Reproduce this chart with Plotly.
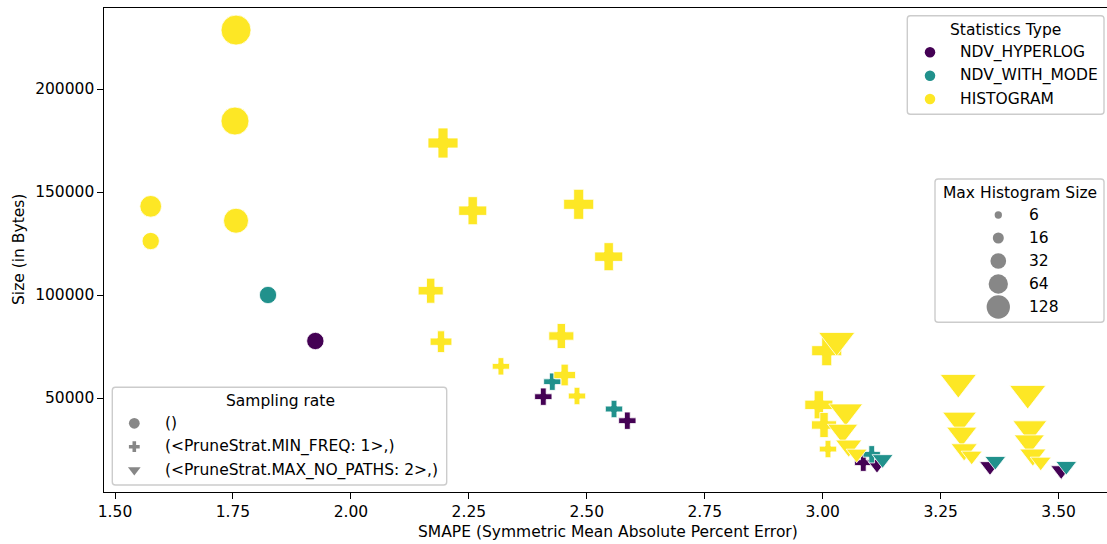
import plotly.graph_objects as go

# ---------------- data ----------------
stat_types = ["NDV_HYPERLOG", "NDV_WITH_MODE", "HISTOGRAM"]
sampling_rates = ["()", "(<PruneStrat.MIN_FREQ: 1>,)", "(<PruneStrat.MAX_NO_PATHS: 2>,)"]
hist_sizes = [6, 16, 32, 64, 128]

# NDV_HYPERLOG
hyper_smape = [1.9246, 2.4078, 2.5859, 3.0860, 3.1151, 3.3546, 3.5055]
hyper_size = [77670, 50640, 38980, 18590, 17960, 16890, 14900]
hyper_sampling = [0, 1, 1, 1, 2, 2, 2]
hyper_hist = [6, 6, 6, 6, 6, 6, 6]

# NDV_WITH_MODE
mode_smape = [1.8243, 2.4269, 2.5577, 3.1039, 3.1270, 3.3659, 3.5163]
mode_size = [100000, 57910, 44660, 22670, 20290, 19420, 16990]
mode_sampling = [0, 1, 1, 1, 2, 2, 2]
mode_hist = [6, 6, 6, 6, 6, 6, 6]

# HISTOGRAM
hist_smape = [1.7565, 1.7543, 1.7565, 1.5757, 1.5757,
              2.1952, 2.2582, 2.1691, 2.1910, 2.3180,
              2.4828, 2.5464, 2.4460, 2.4531, 2.4792,
              3.0085, 2.9918, 3.0028, 3.0112,
              3.0297, 3.0488, 3.0424, 3.0551, 3.0720,
              3.2874, 3.2900, 3.2947, 3.2998, 3.3158,
              3.4345, 3.4390, 3.4379, 3.4454, 3.4621]
hist_size = [228600, 184450, 136060, 143050, 126200,
             173780, 140920, 102080, 77330, 65380,
             144020, 118590, 80090, 61160, 50970,
             72960, 46700, 36890, 25240,
             78000, 43540, 34070, 26790, 22960,
             57620, 39560, 32670, 25000, 21990,
             52280, 35340, 28880, 22430, 19080]
hist_sampling = [0, 0, 0, 0, 0,
                 1, 1, 1, 1, 1,
                 1, 1, 1, 1, 1,
                 1, 1, 1, 1,
                 2, 2, 2, 2, 2,
                 2, 2, 2, 2, 2,
                 2, 2, 2, 2, 2]
hist_hist = [128, 64, 32, 16, 6,
             128, 64, 32, 16, 6,
             128, 64, 32, 16, 6,
             128, 64, 32, 6,
             128, 64, 32, 16, 6,
             128, 64, 32, 16, 6,
             128, 64, 32, 16, 6]

x_ticks = [1.50, 1.75, 2.00, 2.25, 2.50, 2.75, 3.00, 3.25, 3.50]
y_ticks = [50000, 100000, 150000, 200000]

# ---------------- styles ----------------
COLORS = {"NDV_HYPERLOG": "#440154", "NDV_WITH_MODE": "#21918c", "HISTOGRAM": "#fde725"}
DIAM = {6: 17.3, 16: 21.7, 32: 25.0, 64: 28.0, 128: 30.0}
SYMBOLS = ["circle", "cross", "triangle-down"]
SYM_SCALE = [1.0, 1 / 1.2, 1.05]
LEG_DIAM = {6: 7.3, 16: 11.0, 32: 15.7, 64: 19.3, 128: 23.3}
GRAY = "#878787"
FONT = "DejaVu Sans"
FS = 15.5

W, H = 1107, 544
L, R, T, B = 104, 1107, 8, 492  # plot area in pixels
PX_PER_X = 471.8
PX_PER_Y = 103 / 50000
x_range = [1.5 - (115 - L) / PX_PER_X, 1.5 + (R - 115) / PX_PER_X]
y_range = [(501 - B) / PX_PER_Y, (501 - T) / PX_PER_Y]

fig = go.Figure()

series = [
    ("NDV_HYPERLOG", hyper_smape, hyper_size, hyper_sampling, hyper_hist),
    ("NDV_WITH_MODE", mode_smape, mode_size, mode_sampling, mode_hist),
    ("HISTOGRAM", hist_smape, hist_size, hist_sampling, hist_hist),
]
for name, xs, ys, samp, hs in series:
    fig.add_trace(go.Scatter(
        x=xs, y=ys, mode="markers", name=name, showlegend=False,
        marker=dict(
            color=COLORS[name],
            symbol=[SYMBOLS[s] for s in samp],
            size=[DIAM[h] * SYM_SCALE[s] for h, s in zip(hs, samp)],
            line=dict(color="white", width=0.8),
            opacity=1,
        ),
        cliponaxis=False,
    ))

# ---------------- legends (drawn on a pixel-coordinate overlay axis) ----------------
def rrect(x0, y0, x1, y1, r=3.1):
    return (f"M{x0+r},{y0} L{x1-r},{y0} Q{x1},{y0} {x1},{y0+r} L{x1},{y1-r} "
            f"Q{x1},{y1} {x1-r},{y1} L{x0+r},{y1} Q{x0},{y1} {x0},{y1-r} "
            f"L{x0},{y0+r} Q{x0},{y0} {x0+r},{y0} Z")

shapes = []
annotations = []

def legend_box(x0, y0, x1, y1):
    shapes.append(dict(type="path", path=rrect(x0, y0, x1, y1), xref="x2", yref="y2",
                       fillcolor="rgba(255,255,255,0.8)", line=dict(color="#cccccc", width=1.4),
                       layer="below"))

def text(x, y, s, xanchor="left"):
    annotations.append(dict(x=x, y=y, xref="x2", yref="y2", text=s, showarrow=False,
                            xanchor=xanchor, yanchor="middle",
                            font=dict(family=FONT, size=FS, color="black")))

# Statistics Type legend
legend_box(907.3, 15.7, 1104, 114.3)
text(1005.7, 29.5, "Statistics Type", "center")
st_y = [52.3, 75.7, 99.0]
fig.add_trace(go.Scatter(
    x=[930] * 3, y=st_y, xaxis="x2", yaxis="y2", mode="markers", showlegend=False,
    hoverinfo="skip", cliponaxis=False,
    marker=dict(color=[COLORS[s] for s in stat_types], size=10.5, symbol="circle",
                opacity=1, line=dict(width=0))))
for yy, s in zip(st_y, stat_types):
    text(958.3, yy, s)

# Max Histogram Size legend
legend_box(935, 179, 1104, 322.3)
text(1019.5, 192.5, "Max Histogram Size", "center")
hs_y = [215, 238, 261, 284, 307]
fig.add_trace(go.Scatter(
    x=[998.3] * 5, y=hs_y, xaxis="x2", yaxis="y2", mode="markers", showlegend=False,
    hoverinfo="skip", cliponaxis=False,
    marker=dict(color=GRAY, size=[LEG_DIAM[h] for h in hist_sizes], symbol="circle",
                opacity=1, line=dict(width=0))))
for yy, h in zip(hs_y, hist_sizes):
    text(1026.7, yy, str(h))

# Sampling rate legend
legend_box(112.3, 387.3, 446.7, 485)
text(280, 400.5, "Sampling rate", "center")
sr_y = [423.3, 446.7, 470.0]
fig.add_trace(go.Scatter(
    x=[134.3] * 3, y=sr_y, xaxis="x2", yaxis="y2", mode="markers", showlegend=False,
    hoverinfo="skip", cliponaxis=False,
    marker=dict(color=GRAY, size=[10.8, 10.8 / 1.2, 11.0], symbol=SYMBOLS,
                opacity=1, line=dict(width=0))))
for yy, s in zip(sr_y, sampling_rates):
    text(163.3, yy, s)

# axis titles
pw, ph = R - L, B - T
annotations.append(dict(x=(608 - L) / pw, y=(B - 532) / ph, xref="paper", yref="paper",
                        text="SMAPE (Symmetric Mean Absolute Percent Error)", showarrow=False,
                        xanchor="center", yanchor="middle",
                        font=dict(family=FONT, size=FS, color="black")))
annotations.append(dict(x=(19 - L) / pw, y=(B - 250) / ph, xref="paper", yref="paper",
                        text="Size (in Bytes)", showarrow=False, textangle=-90,
                        xanchor="center", yanchor="middle",
                        font=dict(family=FONT, size=FS, color="black")))

axis_common = dict(showgrid=False, zeroline=False, ticks="outside", ticklen=5.5, tickwidth=1.2,
                   tickcolor="black", showline=True, linecolor="black", linewidth=1.2,
                   tickfont=dict(family=FONT, size=FS, color="black"))

fig.update_layout(
    width=W, height=H,
    margin=dict(l=L, r=W - R, t=T, b=H - B, pad=0),
    paper_bgcolor="white", plot_bgcolor="white",
    font=dict(family=FONT, size=FS, color="black"),
    xaxis=dict(range=x_range, tickvals=x_ticks, ticktext=[f"{v:.2f}" for v in x_ticks],
               mirror=True, **axis_common),
    yaxis=dict(range=y_range, tickvals=y_ticks, ticktext=[str(v) for v in y_ticks],
               mirror=False, **axis_common),
    xaxis2=dict(overlaying="x", range=[L, R], visible=False, fixedrange=True),
    yaxis2=dict(overlaying="y", range=[B, T], visible=False, fixedrange=True),
    shapes=shapes, annotations=annotations, showlegend=False,
)

fig.write_html("out.html")
